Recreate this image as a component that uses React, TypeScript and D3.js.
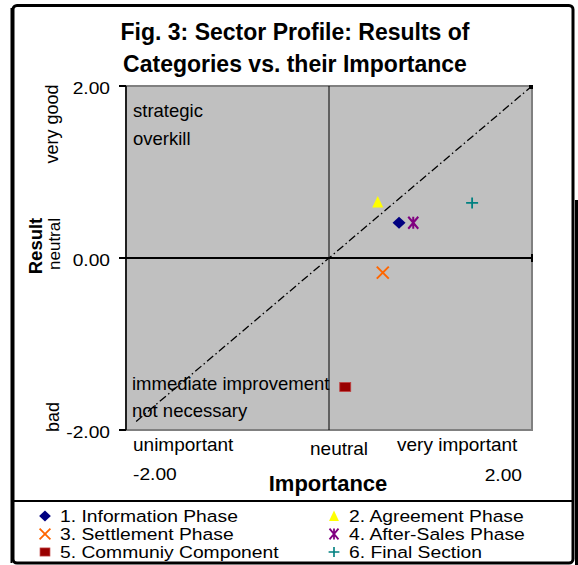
import React from 'react';
import * as d3 from 'd3';

const seriesNames = [
  '1. Information Phase',
  '2. Agreement Phase',
  '3. Settlement Phase',
  '4. After-Sales Phase',
  '5. Communiy Component',
  '6. Final Section',
];
const importance = [0.69, 0.48, 0.53, 0.83, 0.16, 1.41];
const result = [0.41, 0.65, -0.17, 0.41, -1.5, 0.64];
const seriesColors = ['#000080', '#FFFF00', '#FF6600', '#800080', '#990000', '#008080'];
const seriesShapes = ['diamond', 'triangle', 'x', 'star', 'square', 'plus'];
const axisTicks = [-2, 0, 2];

const FONT = 'Liberation Sans, Arial, sans-serif';

// text squeezed/stretched horizontally like the original export
const T = ({ x, y, sx = 1, size, bold, anchor = 'start', children }: any) => (
  <text
    transform={`translate(${x},${y}) scale(${sx},1)`}
    fontSize={size}
    fontWeight={bold ? 'bold' : 'normal'}
    textAnchor={anchor}
  >
    {children}
  </text>
);

const Marker = ({ shape, color, x, y, s = 1 }: { shape: string; color: string; x: number; y: number; s?: number }) => {
  const t = `translate(${x},${y}) scale(${s})`;
  if (shape === 'diamond') {
    return <path transform={t} d="M0,-6 L6.5,0 L0,6 L-6.5,0 Z" fill={color} />;
  }
  if (shape === 'triangle') {
    return <path transform={t} d="M0,-6 L5.5,5.5 L-5.5,5.5 Z" fill={color} />;
  }
  if (shape === 'square') {
    return <rect transform={t} x={-5.5} y={-4.5} width={11} height={9} fill={color} stroke="#c04040" strokeWidth={0.8} />;
  }
  if (shape === 'x') {
    return <path transform={t} d="M-6,-6 L6,6 M-6,6 L6,-6" stroke={color} strokeWidth={2} fill="none" />;
  }
  if (shape === 'star') {
    return <path transform={t} d="M-5,-6 L5,6 M-5,6 L5,-6 M0,-6 L0,6" stroke={color} strokeWidth={2} fill="none" />;
  }
  return <path transform={t} d="M-6,0 L6,0 M0,-5.5 L0,5.5" stroke={color} strokeWidth={1.8} fill="none" />;
};

export default function App() {
  const x = d3.scaleLinear().domain([-2, 2]).range([126, 532]);
  const y = d3.scaleLinear().domain([-2, 2]).range([430, 86]);
  const diag = d3.line<number>().x(d => x(d)).y(d => y(d));

  return (
    <svg width={578} height={565} style={{ position: 'absolute', left: 0, top: 0 }} fontFamily={FONT}>
      <rect x={0} y={0} width={578} height={565} fill="#fff" />
      {/* outer frame */}
      <rect x={575} y={200} width={3} height={365} fill="#000" />
      <rect x={13} y={5.5} width={560} height={557.5} rx={4} fill="#fff" stroke="#000" strokeWidth={3} />
      <line x1={11.5} x2={11.5} y1={8} y2={563} stroke="#000" strokeWidth={2} />
      <line x1={12} x2={573} y1={501} y2={501} stroke="#000" strokeWidth={2} />

      {/* title */}
      <T x={295} y={40} size={23} bold anchor="middle">Fig. 3: Sector Profile: Results of</T>
      <T x={295} y={72} size={23} bold anchor="middle">Categories vs. their Importance</T>

      {/* plot area */}
      <rect x={x(-2)} y={y(2)} width={x(2) - x(-2)} height={y(-2) - y(2)} fill="#C0C0C0" stroke="#808080" strokeWidth={2} />
      <line x1={x(0)} x2={x(0)} y1={y(2)} y2={y(-2)} stroke="#000" strokeWidth={1} />
      <line x1={x(-2)} x2={x(2)} y1={y(0)} y2={y(0)} stroke="#000" strokeWidth={2} />
      <line x1={x(2)} x2={x(2)} y1={y(0) - 4} y2={y(0) + 4} stroke="#000" strokeWidth={2} />
      <line x1={x(-2)} x2={x(-2)} y1={y(2)} y2={y(-2)} stroke="#000" strokeWidth={1.5} />
      {axisTicks.map(t => (
        <g key={t}>
          <line x1={x(-2) - 7} x2={x(-2)} y1={y(t)} y2={y(t)} stroke="#000" strokeWidth={2} />
          <T x={110} y={y(t) + 8} sx={1.2} size={16} anchor="end">{t.toFixed(2)}</T>
        </g>
      ))}

      {/* diagonal */}
      <path d={diag([-1.9, 2])!} fill="none" stroke="#000" strokeWidth={1.3} strokeDasharray="8,3,1.5,3" />
      <rect x={x(2) - 3} y={y(2) - 1} width={4} height={4} fill="#000" />

      {/* quadrant notes */}
      <T x={133} y={117} size={18.5}>strategic</T>
      <T x={133} y={145} size={18.5}>overkill</T>
      <T x={132} y={390} size={18.5}>immediate improvement</T>
      <T x={132} y={417} size={18.5}>not necessary</T>

      {/* y axis labels */}
      <text transform="translate(58,124) rotate(-90)" textAnchor="middle" fontSize={18}>very good</text>
      <text transform="translate(60,244) rotate(-90)" textAnchor="middle" fontSize={17}>neutral</text>
      <text transform="translate(59,417) rotate(-90)" textAnchor="middle" fontSize={18}>bad</text>
      <text transform="translate(42,246) rotate(-90)" textAnchor="middle" fontSize={18.5} fontWeight="bold">Result</text>

      {/* x axis labels */}
      <T x={133} y={451} size={19}>unimportant</T>
      <T x={310} y={455} size={19}>neutral</T>
      <T x={397} y={451} size={19}>very important</T>
      <T x={133} y={480} sx={1.2} size={16}>{axisTicks[0].toFixed(2)}</T>
      <T x={522} y={481} sx={1.2} size={16} anchor="end">{axisTicks[2].toFixed(2)}</T>
      <T x={328} y={491} size={22} bold anchor="middle">Importance</T>

      {/* points */}
      {seriesNames.map((n, i) => (
        <Marker key={n} shape={seriesShapes[i]} color={seriesColors[i]} x={x(importance[i])} y={y(result[i])} />
      ))}

      {/* legend */}
      {seriesNames.map((n, i) => {
        const col = i % 2;
        const row = Math.floor(i / 2);
        const lx = col === 0 ? 45 : 334;
        const ly = 516 + row * 18;
        return (
          <g key={n}>
            <Marker shape={seriesShapes[i]} color={seriesColors[i]} x={lx} y={ly} s={0.9} />
            <T x={lx + 15} y={ly + 6} sx={1.17} size={16.5}>{n}</T>
          </g>
        );
      })}
    </svg>
  );
}
